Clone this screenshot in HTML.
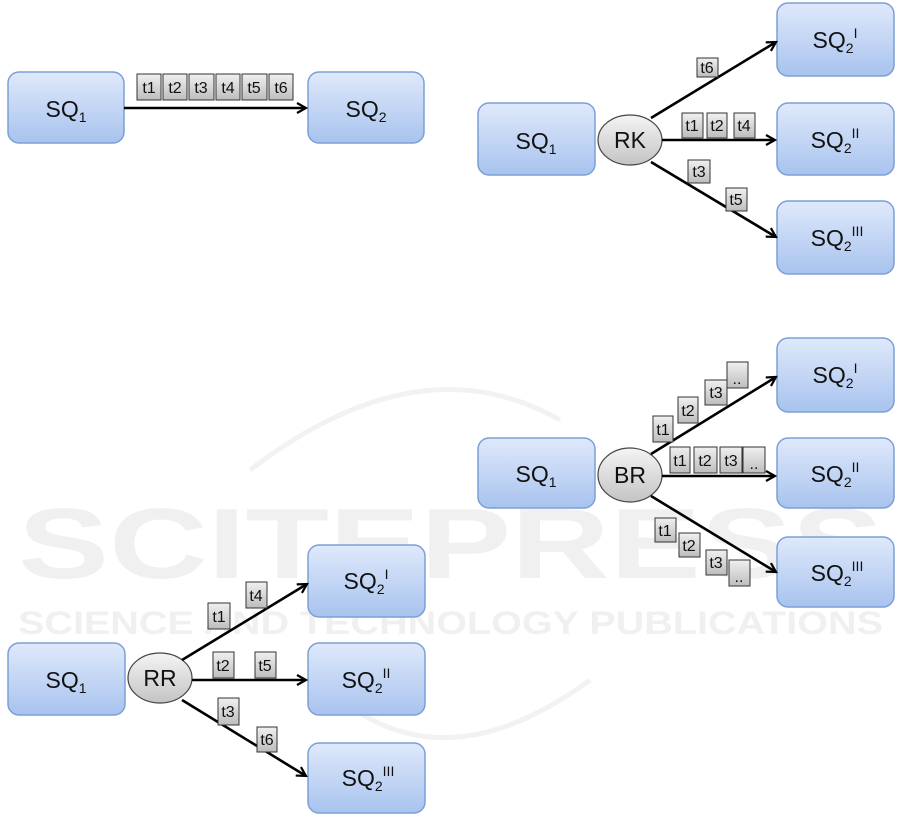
<!DOCTYPE html>
<html><head><meta charset="utf-8"><style>
html,body{margin:0;padding:0;background:#fff}
svg{display:block}
text{font-family:"Liberation Sans",sans-serif}
</style></head><body>
<svg width="901" height="821" viewBox="0 0 901 821" xmlns="http://www.w3.org/2000/svg">
<defs>
<linearGradient id="bx" x1="0" y1="0" x2="0" y2="1"><stop offset="0" stop-color="#dfe9fb"/><stop offset="1" stop-color="#a8c3ee"/></linearGradient>
<linearGradient id="el" x1="0" y1="0" x2="0" y2="1"><stop offset="0" stop-color="#f4f4f4"/><stop offset="1" stop-color="#c4c4c4"/></linearGradient>
<linearGradient id="tk" x1="0" y1="0" x2="0" y2="1"><stop offset="0" stop-color="#f0f0f0"/><stop offset="1" stop-color="#bdbdbd"/></linearGradient>
<marker id="ar" markerWidth="12" markerHeight="12" refX="10" refY="6" orient="auto" markerUnits="userSpaceOnUse"><path d="M1,1 L10,6 L1,11" fill="none" stroke="#000" stroke-width="2.2"/></marker>
</defs>
<g fill="#f0f0f0" font-weight="bold">
<text x="18" y="578" font-size="100" textLength="865" lengthAdjust="spacingAndGlyphs">SCITEPRESS</text>
<text x="18" y="634" font-size="32" textLength="865" lengthAdjust="spacingAndGlyphs">SCIENCE AND TECHNOLOGY PUBLICATIONS</text>
</g>
<path d="M250,470 Q420,340 560,420" fill="none" stroke="#f2f2f2" stroke-width="5"/>
<path d="M330,690 Q440,790 590,680" fill="none" stroke="#f2f2f2" stroke-width="5"/>

<g stroke="#7b9fd6" stroke-width="1.5" fill="url(#bx)">
<rect x="8" y="72" width="116" height="71" rx="11"/>
<rect x="308" y="72" width="116" height="71" rx="11"/>
<rect x="478" y="103" width="117" height="72" rx="11"/>
<rect x="777" y="3" width="117" height="73" rx="11"/>
<rect x="777" y="103" width="117" height="72" rx="11"/>
<rect x="777" y="201" width="117" height="73" rx="11"/>
<rect x="478" y="438" width="117" height="70" rx="11"/>
<rect x="777" y="338" width="117" height="74" rx="11"/>
<rect x="777" y="438" width="117" height="70" rx="11"/>
<rect x="777" y="537" width="117" height="70" rx="11"/>
<rect x="8" y="643" width="117" height="72" rx="11"/>
<rect x="308" y="545" width="117" height="72" rx="11"/>
<rect x="308" y="643" width="117" height="72" rx="11"/>
<rect x="308" y="743" width="117" height="70" rx="11"/>
</g>
<g stroke="#444" stroke-width="1.2" fill="url(#el)">
<ellipse cx="630" cy="140" rx="32" ry="25"/>
<ellipse cx="630" cy="475" rx="32" ry="27"/>
<ellipse cx="160" cy="678" rx="32" ry="25"/>
</g>
<g stroke="#000" stroke-width="2.6" fill="none" marker-end="url(#ar)">
<line x1="124" y1="108" x2="306" y2="108"/>
<line x1="651" y1="118" x2="776" y2="42"/>
<line x1="662" y1="140" x2="775" y2="140"/>
<line x1="651" y1="162" x2="776" y2="237"/>
<line x1="651" y1="454" x2="776" y2="377"/>
<line x1="662" y1="476" x2="775" y2="476"/>
<line x1="651" y1="496" x2="776" y2="572"/>
<line x1="182" y1="660" x2="307" y2="584"/>
<line x1="192" y1="680" x2="306" y2="680"/>
<line x1="182" y1="700" x2="306" y2="776"/>
</g>
<g font-size="23" fill="#111" text-anchor="middle">
<text x="66" y="117">SQ<tspan font-size="14" dy="5">1</tspan></text>
<text x="366" y="117">SQ<tspan font-size="14" dy="5">2</tspan></text>
<text x="536" y="149">SQ<tspan font-size="14" dy="5">1</tspan></text>
<text x="536" y="482">SQ<tspan font-size="14" dy="5">1</tspan></text>
<text x="66" y="688">SQ<tspan font-size="14" dy="5">1</tspan></text>
<text x="835" y="48">SQ<tspan font-size="14" dy="5">2</tspan><tspan font-size="14" dy="-15">I</tspan></text>
<text x="835" y="148">SQ<tspan font-size="14" dy="5">2</tspan><tspan font-size="14" dy="-15">II</tspan></text>
<text x="837" y="246">SQ<tspan font-size="14" dy="5">2</tspan><tspan font-size="14" dy="-15">III</tspan></text>
<text x="835" y="383">SQ<tspan font-size="14" dy="5">2</tspan><tspan font-size="14" dy="-15">I</tspan></text>
<text x="835" y="482">SQ<tspan font-size="14" dy="5">2</tspan><tspan font-size="14" dy="-15">II</tspan></text>
<text x="837" y="581">SQ<tspan font-size="14" dy="5">2</tspan><tspan font-size="14" dy="-15">III</tspan></text>
<text x="366" y="589">SQ<tspan font-size="14" dy="5">2</tspan><tspan font-size="14" dy="-15">I</tspan></text>
<text x="366" y="688">SQ<tspan font-size="14" dy="5">2</tspan><tspan font-size="14" dy="-15">II</tspan></text>
<text x="368" y="786">SQ<tspan font-size="14" dy="5">2</tspan><tspan font-size="14" dy="-15">III</tspan></text>
<text x="630" y="148">RK</text>
<text x="630" y="483">BR</text>
<text x="160" y="686">RR</text>
</g>
<g stroke="#333" stroke-width="1" fill="url(#tk)">
<rect x="137" y="74" width="24" height="26"/><rect x="163" y="74" width="24" height="26"/><rect x="189" y="74" width="25" height="26"/><rect x="216" y="74" width="24" height="26"/><rect x="242" y="74" width="25" height="26"/><rect x="269" y="74" width="24" height="26"/>
<rect x="697" y="58" width="21" height="19"/>
<rect x="682" y="113" width="21" height="25"/><rect x="707" y="113" width="20" height="25"/><rect x="734" y="113" width="21" height="25"/>
<rect x="688" y="160" width="22" height="23"/><rect x="726" y="188" width="21" height="23"/>
<rect x="653" y="416" width="20" height="26"/><rect x="678" y="397" width="20" height="26"/><rect x="705" y="380" width="22" height="25"/><rect x="727" y="362" width="21" height="26"/>
<rect x="670" y="447" width="20" height="26"/><rect x="694" y="447" width="23" height="26"/><rect x="720" y="447" width="22" height="26"/><rect x="743" y="447" width="22" height="26"/>
<rect x="655" y="518" width="21" height="24"/><rect x="679" y="533" width="21" height="24"/><rect x="706" y="550" width="21" height="25"/><rect x="729" y="560" width="21" height="26"/>
<rect x="208" y="603" width="22" height="26"/><rect x="246" y="582" width="21" height="26"/>
<rect x="213" y="652" width="21" height="26"/><rect x="255" y="652" width="21" height="26"/>
<rect x="218" y="698" width="21" height="27"/><rect x="257" y="727" width="20" height="25"/>
</g>
<g font-size="16" fill="#111" text-anchor="middle">
<text x="149" y="93">t1</text><text x="175" y="93">t2</text><text x="201" y="93">t3</text><text x="228" y="93">t4</text><text x="254" y="93">t5</text><text x="281" y="93">t6</text>
<text x="707" y="73">t6</text>
<text x="692" y="131">t1</text><text x="717" y="131">t2</text><text x="744" y="131">t4</text>
<text x="699" y="177">t3</text><text x="736" y="205">t5</text>
<text x="663" y="435">t1</text><text x="688" y="416">t2</text><text x="716" y="398">t3</text><text x="737" y="384">..</text>
<text x="680" y="466">t1</text><text x="705" y="466">t2</text><text x="731" y="466">t3</text><text x="754" y="469">..</text>
<text x="665" y="536">t1</text><text x="689" y="551">t2</text><text x="716" y="568">t3</text><text x="739" y="582">..</text>
<text x="219" y="622">t1</text><text x="256" y="601">t4</text>
<text x="223" y="671">t2</text><text x="265" y="671">t5</text>
<text x="228" y="717">t3</text><text x="267" y="745">t6</text>
</g>
</svg>
</body></html>
